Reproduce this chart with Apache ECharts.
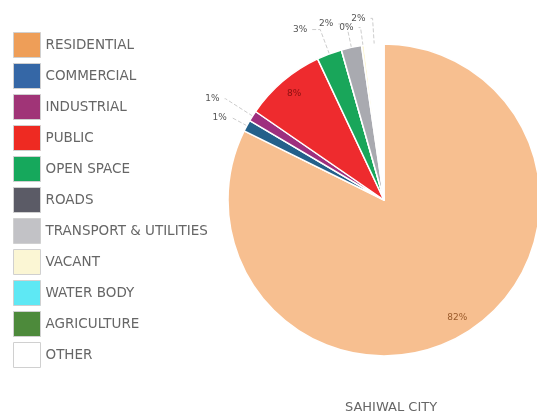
<!DOCTYPE html>
<html><head><meta charset="utf-8">
<script src="https://cdn.jsdelivr.net/npm/echarts@6/dist/echarts.min.js"></script>
<style>html,body{margin:0;padding:0;background:#fff}#c{width:537px;height:417px}</style>
</head><body><div id="c"></div>
<script>
var categories = ['RESIDENTIAL','COMMERCIAL','INDUSTRIAL','PUBLIC','OPEN SPACE','ROADS','TRANSPORT & UTILITIES','VACANT','WATER BODY','AGRICULTURE','OTHER'];
var values = [82.3, 1.2, 1.1, 8.4, 2.6, 0, 2.1, 0.3, 0, 0, 2.0];
var colors = ['#F7BF90','#24608A','#9E2F7E','#EE2B2E','#19A65A','#5C5C66','#A9AAB0','#FCF6D6','#5DE6F2','#4F8A3C','#FFFFFF'];
var legendColors = ['#EE9E58','#3567A6','#A03477','#EE2A22','#16A85C','#5B5B66','#C2C2C6','#FBF6D4','#5EE8F4','#4D8A3B','#FFFFFF'];
var titleText = 'SAHIWAL CITY';

var chart = echarts.init(document.getElementById('c'), null, {renderer:'canvas'});
var outerShow = [false, true, true, false, true, false, true, true, false, false, true];
var innerShow = [true, false, false, true, false, false, false, false, false, false, false];
var lineLen = [10, 16, 32, 10, 26, 10, 24, 18, 10, 10, 26];
var lineLen2 = [4, 1, 1, 4, 8, 4, 8, 2, 4, 4, 2];
var innerColors = ['#9A5A2A','#000','#000','#8B1010','#000','#000','#000','#000','#000','#000','#000'];
function pct(p){ return Math.round(p.value) + '%'; }

var mainData = categories.map(function(n,i){
  return {name:n, value:values[i], itemStyle:{color:colors[i]},
    label:{show:outerShow[i]}, labelLine:{show:outerShow[i], length:lineLen[i], length2:lineLen2[i]}};
});
var ringData = categories.map(function(n,i){
  return {name:n, value:values[i], label:{show:innerShow[i], color:innerColors[i]}};
});

chart.setOption({
  animation:false,
  title:{text:titleText, left:386, top:396, textAlign:'center',
    textStyle:{fontSize:13, fontWeight:'normal', color:'#666', fontFamily:'DejaVu Sans'}},
  legend:{orient:'vertical', left:8, top:27, itemWidth:27, itemHeight:25, itemGap:5,
    icon:'rect', selectedMode:false,
    itemStyle:{borderColor:'#d0d0d0', borderWidth:1},
    textStyle:{fontSize:13.5, color:'#666', fontFamily:'DejaVu Sans'},
    data: categories.map(function(n,i){return {name:n, itemStyle:{color:legendColors[i]}};})},
  series:[{
    type:'pie', center:[384,200], radius:[0,156], startAngle:90, clockwise:true,
    avoidLabelOverlap:false, stillShowZeroSum:true,
    itemStyle:{borderColor:'#fff', borderWidth:1.5},
    label:{position:'outside', formatter:pct, fontSize:9, color:'#555', fontFamily:'DejaVu Sans'},
    labelLine:{lineStyle:{color:'#ccc', width:1, type:'dashed'}},
    data: mainData
  },{
    type:'pie', center:[384,200], radius:[116,156], startAngle:90, clockwise:true,
    silent:true, avoidLabelOverlap:false, legendHoverLink:false,
    itemStyle:{color:'rgba(0,0,0,0)', borderWidth:0},
    label:{position:'inside', formatter:pct, fontSize:9, fontFamily:'DejaVu Sans'},
    labelLine:{show:false},
    data: ringData,
    tooltip:{show:false}
  }]
});
</script></body></html>
